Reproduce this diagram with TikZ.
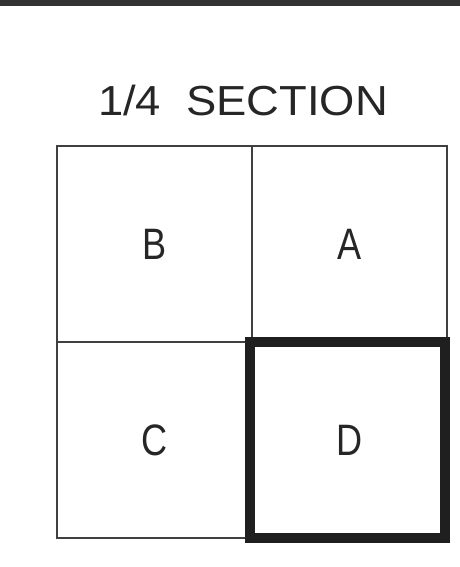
\documentclass[tikz,border=0pt]{standalone}
\usepackage{fontspec}
\setmainfont{Liberation Sans}

\tikzset{
  cell/.style={draw=black!75, line width=2.5pt, minimum width=195pt, minimum height=196pt,
               inner sep=0pt, outer sep=0pt},
  celltext/.style={font=\fontsize{44}{44}\selectfont, text=black!85, xscale=0.82, transform shape}
}

\begin{document}
\begin{tikzpicture}[x=1pt, y=1pt]

\useasboundingbox (0,0) rectangle (460,567);

% -----------------------------
% Sheet border (top)
% -----------------------------
\draw[line width=6pt, black!80] (0,564) -- (460,564);

% -----------------------------
% Title
% -----------------------------
\node[font=\fontsize{42}{42}\selectfont, text=black!85, xscale=1.08, transform shape] (title) at (243,467) {1/4\ \ SECTION};

% -----------------------------
% Quarter cells
% -----------------------------
\node[cell] (B) at (154.5,323) {};
\node[cell] (A) at (349.5,323) {};
\node[cell] (C) at (154.5,127) {};
\node[cell] (D) at (349.5,127) {};

\node[celltext] at (B) {B};
\node[celltext] at (A) {A};
\node[celltext] at (C) {C};
\node[celltext] at (D) {D};

% highlighted quarter
\draw[line width=10pt, black!88] ([xshift=-2pt]D.south west) rectangle ([xshift=-2pt]D.north east);

\end{tikzpicture}
\end{document}
